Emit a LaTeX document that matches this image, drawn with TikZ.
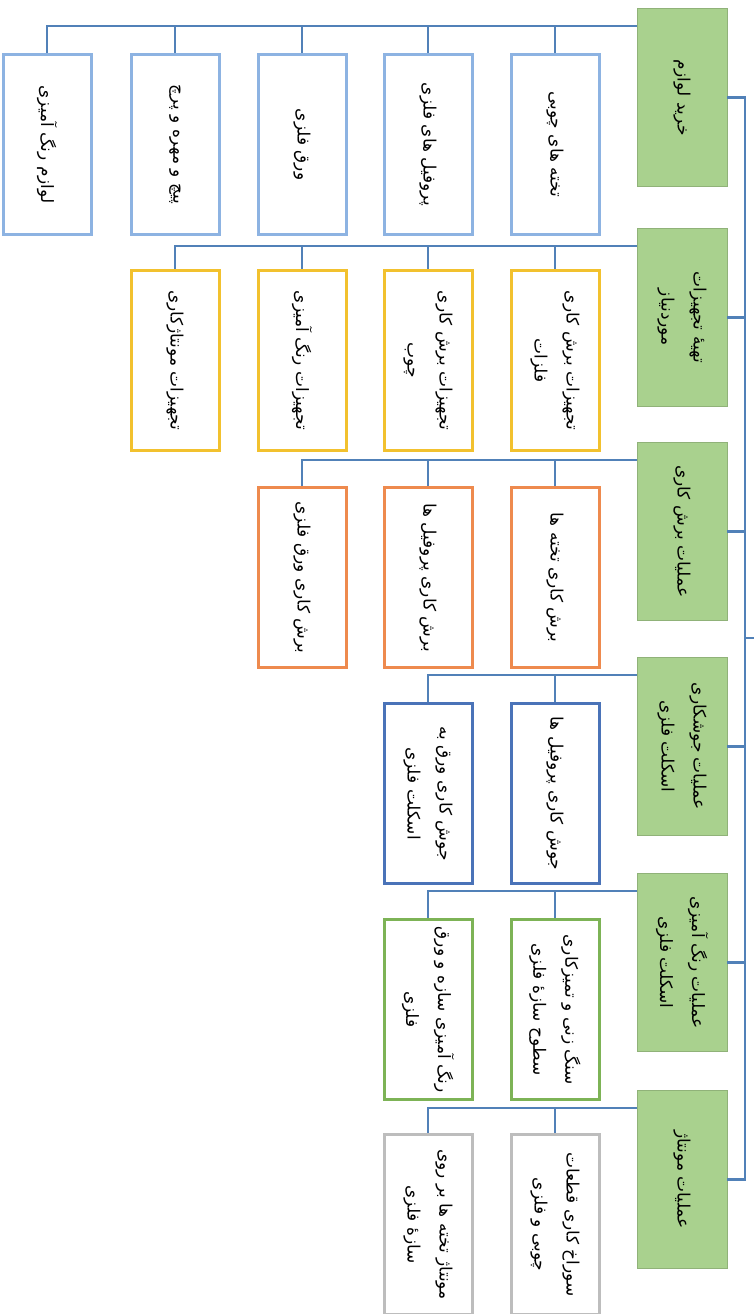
\documentclass[tikz,border=0pt]{standalone}
\usepackage{fontspec}
\newfontfamily\farsifont[Script=Arabic]{DejaVu Sans}
\TeXXeTstate=1
\newcommand{\fatext}[1]{{\farsifont\beginR #1\endR}}
\definecolor{headgreen}{HTML}{A9D18E}
\definecolor{linkblue}{HTML}{5181B8}
\definecolor{buyblue}{HTML}{8DB3E2}
\definecolor{toolgold}{HTML}{F2C12E}
\definecolor{cutorange}{HTML}{EE8A4E}
\definecolor{weldblue}{HTML}{4A73B8}
\definecolor{paintgreen}{HTML}{7DB356}
\definecolor{mountgray}{HTML}{BDBDBD}

\begin{document}
\begin{tikzpicture}[x=1pt, y=-1pt,
		every node/.style={font=\fontsize{17}{32}\selectfont, align=center, rotate=-90, anchor=west},
		head/.style={fill=headgreen, draw=headgreen!85!black, line width=0.8pt, minimum width=178pt, minimum height=90pt},
		item/.style={fill=white, draw=#1, line width=3pt, minimum width=180pt, minimum height=88pt},
		link/.style={draw=linkblue, line width=2.6pt}]

		\useasboundingbox (0,0) rectangle (754,1314);

		% Etapes (colonne verte)
		\node[head] (buy) at (682,8) {\fatext{خرید لوازم}};
		\node[head] (equip) at (682,228) {\fatext{تهیهٔ تجهیزات}\\\fatext{موردنیاز}};
		\node[head] (cut) at (682,442) {\fatext{عملیات برش کاری}};
		\node[head] (weld) at (682,657) {\fatext{عملیات جوشکاری}\\\fatext{اسکلت فلزی}};
		\node[head] (paint) at (682,873) {\fatext{عملیات رنگ آمیزی}\\\fatext{اسکلت فلزی}};
		\node[head] (mount) at (682,1090) {\fatext{عملیات مونتاژ}};

		% Lignes 1 : achats
		\node[item=buyblue] (boards) at (555,53) {\fatext{تخته های چوبی}};
		\node[item=buyblue] (profiles) at (428,53) {\fatext{پروفیل های فلزی}};
		\node[item=buyblue] (sheet) at (302,53) {\fatext{ورق فلزی}};
		\node[item=buyblue] (bolts) at (175,53) {\fatext{پیچ و مهره و پرچ}};
		\node[item=buyblue] (paints) at (47,53) {\fatext{لوازم رنگ آمیزی}};

		% Ligne 2 : equipements
		\node[item=toolgold] (metaltools) at (555,269) {\fatext{تجهیزات برش کاری}\\\fatext{فلزات}};
		\node[item=toolgold] (woodtools) at (428,269) {\fatext{تجهیزات برش کاری}\\\fatext{چوب}};
		\node[item=toolgold] (painttools) at (302,269) {\fatext{تجهیزات رنگ آمیزی}};
		\node[item=toolgold] (mounttools) at (175,269) {\fatext{تجهیزات مونتاژکاری}};

		% Ligne 3 : decoupe
		\node[item=cutorange] (cutboards) at (555,486) {\fatext{برش کاری تخته ها}};
		\node[item=cutorange] (cutprofiles) at (428,486) {\fatext{برش کاری پروفیل ها}};
		\node[item=cutorange] (cutsheet) at (302,486) {\fatext{برش کاری ورق فلزی}};

		% Ligne 4 : soudure
		\node[item=weldblue] (weldprofiles) at (555,702) {\fatext{جوش کاری پروفیل ها}};
		\node[item=weldblue] (weldsheet) at (428,702) {\fatext{جوش کاری ورق به}\\\fatext{اسکلت فلزی}};

		% Ligne 5 : peinture
		\node[item=paintgreen] (grind) at (555,918) {\fatext{سنگ زنی و تمیزکاری}\\\fatext{سطوح سازهٔ فلزی}};
		\node[item=paintgreen] (coat) at (428,918) {\fatext{رنگ آمیزی سازه و ورق}\\\fatext{فلزی}};

		% Ligne 6 : montage
		\node[item=mountgray] (drill) at (555,1133) {\fatext{سوراخ کاری قطعات}\\\fatext{چوبی و فلزی}};
		\node[item=mountgray] (fix) at (428,1133) {\fatext{مونتاژ تخته ها بر روی}\\\fatext{سازهٔ فلزی}};

		% Tronc commun a droite
		\coordinate (spine) at (745,0);
		\coordinate (root) at (754,638);
		\draw[link] (buy.north) -| (spine |- mount.north) -- (mount.north);
		\draw[link] (equip.north) -- (equip.north -| spine);
		\draw[link] (cut.north) -- (cut.north -| spine);
		\draw[link] (weld.north) -- (weld.north -| spine);
		\draw[link] (paint.north) -- (paint.north -| spine);
		\draw[link] (root -| spine) -- (root);

		% Liaisons etape -> taches
		\draw[link] ([yshift=-18pt]buy.south west) -| (boards.west);
		\draw[link] ([yshift=-18pt]buy.south west) -| (profiles.west);
		\draw[link] ([yshift=-18pt]buy.south west) -| (sheet.west);
		\draw[link] ([yshift=-18pt]buy.south west) -| (bolts.west);
		\draw[link] ([yshift=-18pt]buy.south west) -| (paints.west);

		\draw[link] ([yshift=-18pt]equip.south west) -| (metaltools.west);
		\draw[link] ([yshift=-18pt]equip.south west) -| (woodtools.west);
		\draw[link] ([yshift=-18pt]equip.south west) -| (painttools.west);
		\draw[link] ([yshift=-18pt]equip.south west) -| (mounttools.west);

		\draw[link] ([yshift=-18pt]cut.south west) -| (cutboards.west);
		\draw[link] ([yshift=-18pt]cut.south west) -| (cutprofiles.west);
		\draw[link] ([yshift=-18pt]cut.south west) -| (cutsheet.west);

		\draw[link] ([yshift=-18pt]weld.south west) -| (weldprofiles.west);
		\draw[link] ([yshift=-18pt]weld.south west) -| (weldsheet.west);

		\draw[link] ([yshift=-18pt]paint.south west) -| (grind.west);
		\draw[link] ([yshift=-18pt]paint.south west) -| (coat.west);

		\draw[link] ([yshift=-18pt]mount.south west) -| (drill.west);
		\draw[link] ([yshift=-18pt]mount.south west) -| (fix.west);

	\end{tikzpicture}
\end{document}
